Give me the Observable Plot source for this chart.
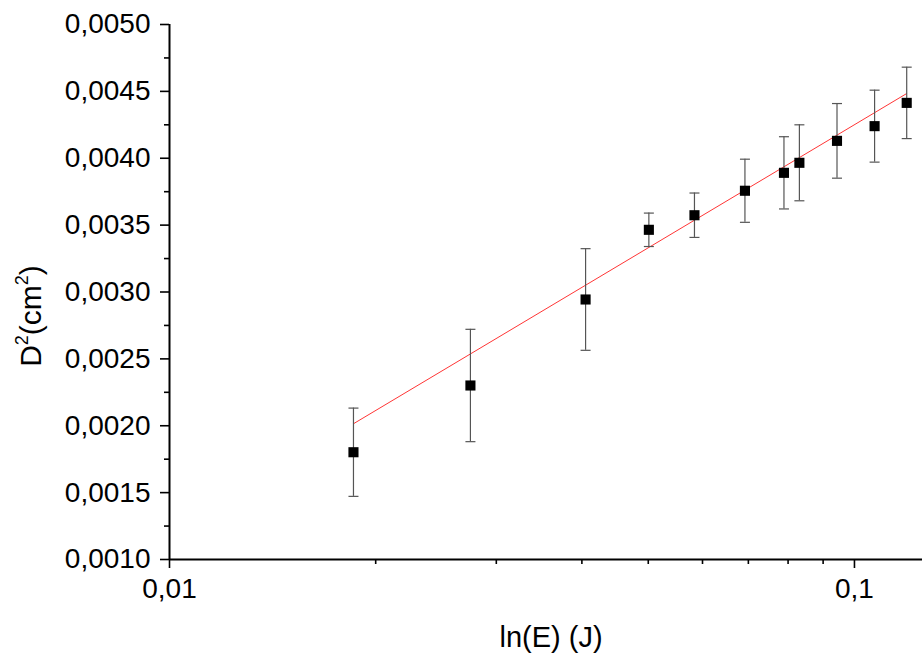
<!DOCTYPE html>
<html>
<head>
<meta charset="utf-8">
<script src="https://cdn.jsdelivr.net/npm/d3@7"></script>
<script src="https://cdn.jsdelivr.net/npm/@observablehq/plot@0.6"></script>
<style>
  html, body { margin: 0; padding: 0; background: #fff; }
</style>
</head>
<body>
<div id="chart"></div>
<script>
// Data
const energy = [0.01856, 0.0275, 0.0405, 0.0501, 0.0584, 0.0692, 0.0789, 0.0831, 0.0943, 0.1070, 0.1192];
const d2     = [0.001802, 0.002301, 0.002944, 0.003465, 0.003574, 0.003757, 0.003891, 0.003966, 0.004130, 0.004240, 0.004414];
const err    = [0.00033, 0.00042, 0.00038, 0.000125, 0.000166, 0.000236, 0.00027, 0.000284, 0.000279, 0.000269, 0.000267];

// Linear fit (in log x) endpoints
const fitX = [0.01856, 0.1192];
const fitY = [0.002015, 0.004484];

// Axis ticks
const yMajor = [0.0010, 0.0015, 0.0020, 0.0025, 0.0030, 0.0035, 0.0040, 0.0045, 0.0050];
const yMinor = [0.00125, 0.00175, 0.00225, 0.00275, 0.00325, 0.00375, 0.00425, 0.00475];
const xMajor = [0.01, 0.1];
const xMinor = [0.02, 0.03, 0.04, 0.05, 0.06, 0.07, 0.08, 0.09];
const xLabels = ["0,01", "0,1"];

const xTitle = "ln(E) (J)";
const yTitle = "D²(cm²)";

const points = energy.map((e, i) => ({x: e, y: d2[i], lo: d2[i] - err[i], hi: d2[i] + err[i]}));
const fit = fitX.map((x, i) => ({x, y: fitY[i]}));

const capSymbol = {
  draw(context, size) {
    const r = Math.sqrt(size / Math.PI);
    context.moveTo(-r, 0);
    context.lineTo(r, 0);
  }
};

const yFmt = v => d3.format(".4f")(v).replace(".", ",");

const chart = Plot.plot({
  width: 922,
  height: 658,
  marginLeft: 169,
  marginTop: 24,
  marginBottom: 99,
  marginRight: 0,
  style: {fontFamily: "'Liberation Sans', Arial, sans-serif", fontSize: "28px", background: "#fff", color: "#000", overflow: "visible"},
  x: {type: "log", domain: [0.01, 0.1257]},
  y: {domain: [0.001, 0.005]},
  marks: [
    // axes
    Plot.axisY(yMajor, {tickSize: 9, tickPadding: 10, tickFormat: yFmt, strokeWidth: 1.6, fontSize: 28, label: null}),
    Plot.axisY(yMinor, {tickSize: 5, tickFormat: () => "", strokeWidth: 1.6, label: null}),
    Plot.axisX(xMajor, {tickSize: 9, tickPadding: 10, tickFormat: d => xLabels[xMajor.indexOf(d)], strokeWidth: 1.6, fontSize: 28, label: null}),
    Plot.axisX(xMinor, {tickSize: 5, tickFormat: () => "", strokeWidth: 1.6, label: null}),
    Plot.ruleX([0.01], {stroke: "#000", strokeWidth: 2}),
    Plot.ruleY([0.001], {stroke: "#000", strokeWidth: 2}),
    // titles
    Plot.text([xTitle], {frameAnchor: "bottom", textAnchor: "middle", dx: 5, dy: 87, fontSize: 29, fill: "#000"}),
    Plot.text([yTitle], {frameAnchor: "left", textAnchor: "middle", lineAnchor: "middle", dx: -138, dy: 24, rotate: -90, fontSize: 30, fill: "#000"}),
    // fit line
    Plot.line(fit, {x: "x", y: "y", stroke: "#ff0000", strokeWidth: 0.8}),
    // error bars
    Plot.ruleX(points, {x: "x", y1: "lo", y2: "hi", stroke: "#555", strokeWidth: 1.2}),
    Plot.dot(points, {x: "x", y: "lo", symbol: capSymbol, r: 5, fill: "none", stroke: "#555", strokeWidth: 1.2}),
    Plot.dot(points, {x: "x", y: "hi", symbol: capSymbol, r: 5, fill: "none", stroke: "#555", strokeWidth: 1.2}),
    // points
    Plot.dot(points, {x: "x", y: "y", symbol: "square", r: 5.7, fill: "#000", stroke: "none"})
  ]
});

// Real superscripts for the y title
const yt = [...chart.querySelectorAll("text")].find(n => n.textContent === yTitle);
if (yt) {
  const parts = [["D", 0, null], ["2", -13, 18], ["(cm", 13, null], ["2", -13, 18], [")", 13, null]];
  yt.textContent = "";
  for (const [s, dy, fs] of parts) {
    const ts = document.createElementNS("http://www.w3.org/2000/svg", "tspan");
    ts.textContent = s;
    if (dy) ts.setAttribute("dy", dy);
    if (fs) ts.setAttribute("font-size", fs);
    yt.appendChild(ts);
  }
}

document.getElementById("chart").appendChild(chart);
</script>
</body>
</html>
